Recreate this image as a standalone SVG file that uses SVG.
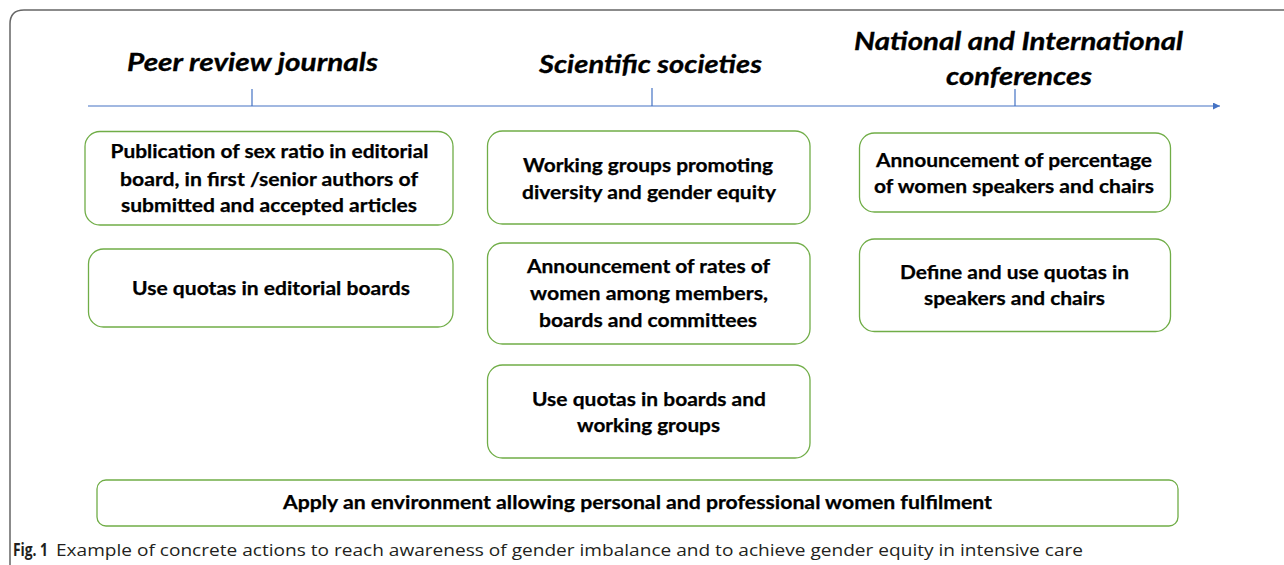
<svg xmlns="http://www.w3.org/2000/svg" width="1284" height="565" viewBox="0 0 1284 565">
<style>
.box{fill:#fff;stroke:#70AD47;stroke-width:1.3}
.bt{font-family:Lato,"Liberation Sans",sans-serif;font-weight:bold;font-size:18px;fill:#000;stroke:#000;stroke-width:0.25;text-anchor:middle}
.hd{font-family:Lato,"Liberation Sans",sans-serif;font-weight:bold;font-style:italic;font-size:24.5px;fill:#000;stroke:#000;stroke-width:0.3}
.ax{stroke:#4472C4;stroke-width:1.2;fill:none}
.cap{font-family:"Open Sans","Liberation Sans",sans-serif;font-size:16px;fill:#231f20}
.capb{font-family:"Open Sans","Liberation Sans",sans-serif;font-size:18px;font-weight:bold;fill:#231f20}
</style>
<defs>
<marker id="arr" markerWidth="8" markerHeight="8" refX="7" refY="3.5" orient="auto" markerUnits="userSpaceOnUse">
<path d="M0,0 L7,3.5 L0,7 Z" fill="#4472C4"/>
</marker>
</defs>
<rect width="1284" height="565" fill="#fff"/>
<path d="M10,565 V24 Q10,10 24,10 H1284" fill="none" stroke="#666" stroke-width="1.5"/>
<g id="connectors">
<line class="ax" x1="88" y1="106" x2="1220" y2="106" marker-end="url(#arr)"/>
<line class="ax" x1="252" y1="89" x2="252" y2="106"/>
<line class="ax" x1="652" y1="88" x2="652" y2="106"/>
<line class="ax" x1="1015" y1="89" x2="1015" y2="106"/>
</g>
<g id="heading-journals"><text class="hd" x="127" y="71" textLength="251" lengthAdjust="spacingAndGlyphs">Peer review journals</text></g>
<g id="heading-societies"><text class="hd" x="539" y="73" textLength="223" lengthAdjust="spacingAndGlyphs">Scientific societies</text></g>
<g id="heading-conferences">
<text class="hd" x="854" y="50" textLength="329" lengthAdjust="spacingAndGlyphs">National and International</text>
<text class="hd" x="946" y="85" textLength="146" lengthAdjust="spacingAndGlyphs">conferences</text>
</g>
<g id="box1">
<rect class="box" x="85" y="131.5" width="368" height="93.5" rx="15"/>
<text class="bt" x="269.5" y="158" textLength="318" lengthAdjust="spacingAndGlyphs">Publication of sex ratio in editorial</text>
<text class="bt" x="269" y="185.5" textLength="298" lengthAdjust="spacingAndGlyphs">board, in first /senior authors of</text>
<text class="bt" x="269" y="212" textLength="296" lengthAdjust="spacingAndGlyphs">submitted and accepted articles</text>
</g>
<g id="box2">
<rect class="box" x="88.5" y="249" width="364.5" height="78" rx="15"/>
<text class="bt" x="271" y="295" textLength="278" lengthAdjust="spacingAndGlyphs">Use quotas in editorial boards</text>
</g>
<g id="box3">
<rect class="box" x="487.5" y="131" width="322.5" height="93" rx="15"/>
<text class="bt" x="648" y="172" textLength="250" lengthAdjust="spacingAndGlyphs">Working groups promoting</text>
<text class="bt" x="649" y="198.5" textLength="254" lengthAdjust="spacingAndGlyphs">diversity and gender equity</text>
</g>
<g id="box4">
<rect class="box" x="487.5" y="243" width="322.5" height="101" rx="15"/>
<text class="bt" x="648.5" y="273" textLength="243" lengthAdjust="spacingAndGlyphs">Announcement of rates of</text>
<text class="bt" x="649" y="300" textLength="238" lengthAdjust="spacingAndGlyphs">women among members,</text>
<text class="bt" x="648" y="327" textLength="218" lengthAdjust="spacingAndGlyphs">boards and committees</text>
</g>
<g id="box5">
<rect class="box" x="487.5" y="365" width="322.5" height="93" rx="15"/>
<text class="bt" x="649" y="405.5" textLength="234" lengthAdjust="spacingAndGlyphs">Use quotas in boards and</text>
<text class="bt" x="648.5" y="432" textLength="143" lengthAdjust="spacingAndGlyphs">working groups</text>
</g>
<g id="box6">
<rect class="box" x="859.5" y="133" width="311" height="79" rx="15"/>
<text class="bt" x="1014" y="166.5" textLength="276" lengthAdjust="spacingAndGlyphs">Announcement of percentage</text>
<text class="bt" x="1014" y="193" textLength="280" lengthAdjust="spacingAndGlyphs">of women speakers and chairs</text>
</g>
<g id="box7">
<rect class="box" x="859.5" y="239" width="311" height="92.5" rx="15"/>
<text class="bt" x="1014.5" y="279" textLength="229" lengthAdjust="spacingAndGlyphs">Define and use quotas in</text>
<text class="bt" x="1014.5" y="305" textLength="181" lengthAdjust="spacingAndGlyphs">speakers and chairs</text>
</g>
<g id="box8">
<rect class="box" x="97" y="480" width="1081" height="46" rx="9"/>
<text class="bt" x="637.5" y="508.5" textLength="709" lengthAdjust="spacingAndGlyphs">Apply an environment allowing personal and professional women fulfilment</text>
</g>
<g id="caption">
<text class="capb" x="13" y="556" textLength="35" lengthAdjust="spacingAndGlyphs">Fig. 1</text>
<text class="cap" x="56" y="556" textLength="1027" lengthAdjust="spacingAndGlyphs">Example of concrete actions to reach awareness of gender imbalance and to achieve gender equity in intensive care</text>
</g>
</svg>
